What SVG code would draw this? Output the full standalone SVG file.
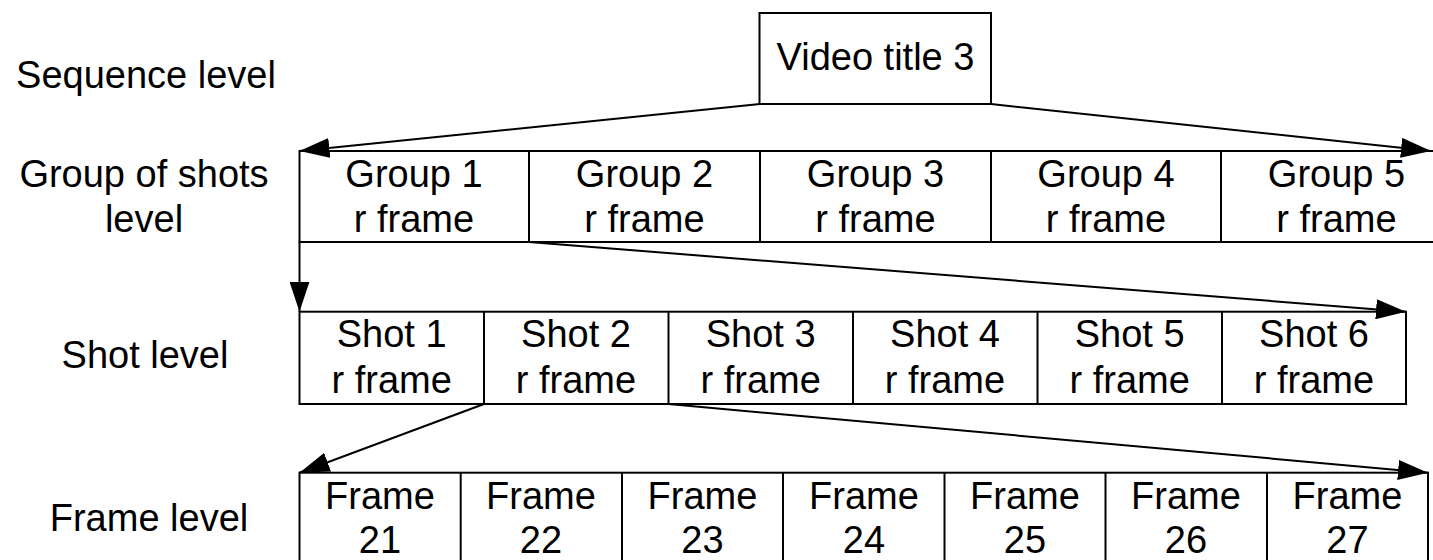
<svg xmlns="http://www.w3.org/2000/svg" width="1433" height="560" viewBox="0 0 1433 560">
<style>
  .box { fill: #fff; stroke: #000; stroke-width: 2; }
  .div { stroke: #000; stroke-width: 2; }
  .t { font-family: "Liberation Sans", Arial, sans-serif; font-size: 38px; fill: #000; text-anchor: middle; }
  .c { stroke: #000; stroke-width: 2; fill: none; marker-end: url(#ah); }
</style>
<defs>
  <marker id="ah" markerUnits="userSpaceOnUse" markerWidth="30" markerHeight="20" refX="30" refY="10" orient="auto">
    <path d="M0,0 L30,10 L0,20 z" fill="#000"/>
  </marker>
</defs>
<rect width="1433" height="560" fill="#fff"/>

<g id="labels">
  <text class="t" x="146" y="88">Sequence level</text>
  <text class="t" x="144" y="187">Group of shots</text>
  <text class="t" x="144" y="232">level</text>
  <text class="t" x="145" y="368">Shot level</text>
  <text class="t" x="149" y="531">Frame level</text>
</g>

<g id="video">
  <rect class="box" x="759.5" y="13" width="231.5" height="91"/>
  <text class="t" x="875.5" y="70">Video title 3</text>
</g>

<g id="groups">
  <rect class="box" x="299.5" y="151" width="1152.5" height="91"/>
  <line class="div" x1="529" y1="151" x2="529" y2="242"/>
  <line class="div" x1="760" y1="151" x2="760" y2="242"/>
  <line class="div" x1="991" y1="151" x2="991" y2="242"/>
  <line class="div" x1="1221" y1="151" x2="1221" y2="242"/>
  <g id="group1"><text class="t" x="414" y="187">Group 1</text><text class="t" x="414" y="232">r frame</text></g>
  <g id="group2"><text class="t" x="644.5" y="187">Group 2</text><text class="t" x="644.5" y="232">r frame</text></g>
  <g id="group3"><text class="t" x="875.5" y="187">Group 3</text><text class="t" x="875.5" y="232">r frame</text></g>
  <g id="group4"><text class="t" x="1106" y="187">Group 4</text><text class="t" x="1106" y="232">r frame</text></g>
  <g id="group5"><text class="t" x="1336.5" y="187">Group 5</text><text class="t" x="1336.5" y="232">r frame</text></g>
</g>

<g id="shots">
  <rect class="box" x="299.5" y="311.7" width="1106.5" height="92.3"/>
  <line class="div" x1="484" y1="311.7" x2="484" y2="404"/>
  <line class="div" x1="668.5" y1="311.7" x2="668.5" y2="404"/>
  <line class="div" x1="853" y1="311.7" x2="853" y2="404"/>
  <line class="div" x1="1037.5" y1="311.7" x2="1037.5" y2="404"/>
  <line class="div" x1="1222" y1="311.7" x2="1222" y2="404"/>
  <g id="shot1"><text class="t" x="391.7" y="347">Shot 1</text><text class="t" x="391.7" y="393">r frame</text></g>
  <g id="shot2"><text class="t" x="576" y="347">Shot 2</text><text class="t" x="576" y="393">r frame</text></g>
  <g id="shot3"><text class="t" x="760.7" y="347">Shot 3</text><text class="t" x="760.7" y="393">r frame</text></g>
  <g id="shot4"><text class="t" x="945" y="347">Shot 4</text><text class="t" x="945" y="393">r frame</text></g>
  <g id="shot5"><text class="t" x="1129.7" y="347">Shot 5</text><text class="t" x="1129.7" y="393">r frame</text></g>
  <g id="shot6"><text class="t" x="1314" y="347">Shot 6</text><text class="t" x="1314" y="393">r frame</text></g>
</g>

<g id="frames">
  <rect class="box" x="299.5" y="472.7" width="1128.5" height="92.3"/>
  <line class="div" x1="460.7" y1="472.7" x2="460.7" y2="565"/>
  <line class="div" x1="622" y1="472.7" x2="622" y2="565"/>
  <line class="div" x1="783" y1="472.7" x2="783" y2="565"/>
  <line class="div" x1="944.5" y1="472.7" x2="944.5" y2="565"/>
  <line class="div" x1="1105.5" y1="472.7" x2="1105.5" y2="565"/>
  <line class="div" x1="1267" y1="472.7" x2="1267" y2="565"/>
  <g id="frame21"><text class="t" x="380" y="509">Frame</text><text class="t" x="380" y="553">21</text></g>
  <g id="frame22"><text class="t" x="541" y="509">Frame</text><text class="t" x="541" y="553">22</text></g>
  <g id="frame23"><text class="t" x="702.5" y="509">Frame</text><text class="t" x="702.5" y="553">23</text></g>
  <g id="frame24"><text class="t" x="864" y="509">Frame</text><text class="t" x="864" y="553">24</text></g>
  <g id="frame25"><text class="t" x="1025" y="509">Frame</text><text class="t" x="1025" y="553">25</text></g>
  <g id="frame26"><text class="t" x="1186" y="509">Frame</text><text class="t" x="1186" y="553">26</text></g>
  <g id="frame27"><text class="t" x="1347.5" y="509">Frame</text><text class="t" x="1347.5" y="553">27</text></g>
</g>

<g id="connectors">
  <line class="c" x1="760" y1="104" x2="299.5" y2="151"/>
  <line class="c" x1="991" y1="104" x2="1431" y2="151"/>
  <line class="c" x1="299.5" y1="242" x2="299.5" y2="311.7"/>
  <line class="c" x1="529" y1="242" x2="1406" y2="311.7"/>
  <line class="c" x1="484" y1="404" x2="299.5" y2="472.7"/>
  <line class="c" x1="668.5" y1="404" x2="1428" y2="472.7"/>
</g>
</svg>
